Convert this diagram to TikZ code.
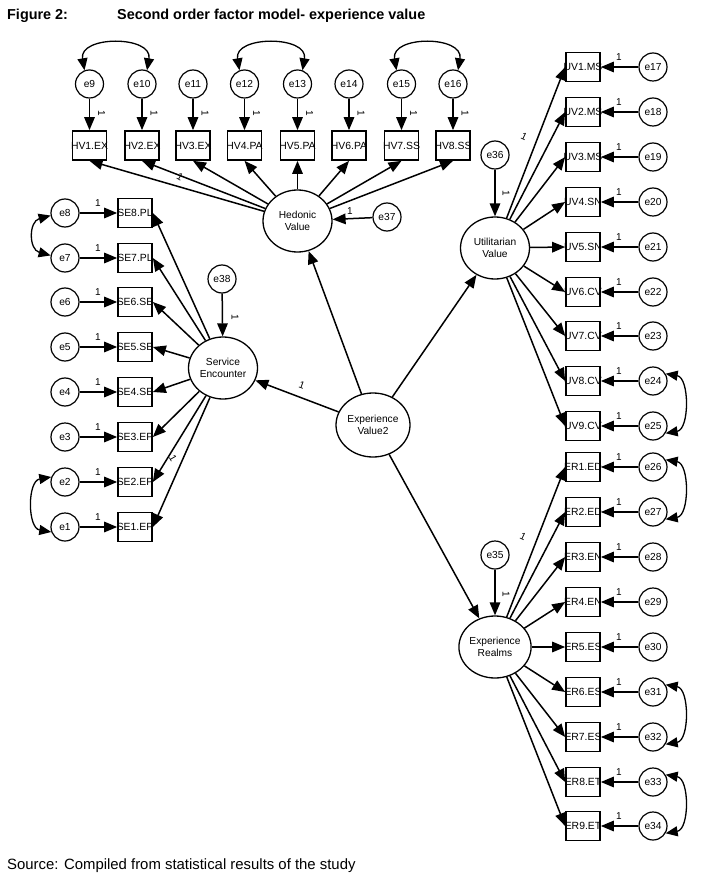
\documentclass[tikz,border=0pt]{standalone}
\usepackage{fontspec}
\setmainfont{Liberation Sans}
\usetikzlibrary{arrows.meta,shapes.geometric}
\newcommand\mybx[1]{\makebox[0pt]{#1}}
\begin{document}
\begin{tikzpicture}[x=1pt,y=-1pt,
  err/.style={circle,draw,line width=1.2pt,minimum size=28pt,inner sep=0pt,font=\fontsize{10.2}{12}\selectfont},
  obs/.style={rectangle,draw,line width=1.7pt,minimum width=34pt,minimum height=29pt,inner sep=0pt,font=\fontsize{10.4}{12}\selectfont},
  lat/.style={ellipse,draw,line width=1.3pt,minimum width=69pt,minimum height=62pt,inner sep=0pt,align=center,font=\fontsize{10.2}{12}\selectfont},
  pth/.style={line width=1.5pt,-{Triangle[length=13pt,width=10.5pt]}},
  cov/.style={line width=1.3pt,{Triangle[length=12pt,width=10pt]}-{Triangle[length=12pt,width=10pt]}},
  one/.style={font=\fontsize{10}{11}\selectfont,inner sep=0pt},
]
\useasboundingbox[fill=white] (0,0) rectangle (721,882);

% Title and source
\node[anchor=base west,inner sep=0pt,font=\bfseries\fontsize{14.4}{16}\selectfont] (t1) at (7,20) {Figure 2:};
\node[anchor=base west,inner sep=0pt,font=\bfseries\fontsize{14.4}{16}\selectfont] (t2) at (117,20) {Second order factor model- experience value};
\node[anchor=base west,inner sep=0pt,font=\fontsize{14.9}{16}\selectfont] (src) at (7,869) {Source: Compiled from statistical results of the study};

% Latent variables
\node[lat] (hed) at (297.5,221) {Hedonic\\Value};
\node[lat] (ser) at (223,368) {Service\\Encounter};
\node[lat] (uti) at (495,248) {Utilitarian\\Value};
\node[lat] (exr) at (495,647) {Experience\\Realms};
\node[lat,minimum width=74pt,minimum height=64pt] (ev) at (373,425) {Experience\\Value2};

% Disturbances
\node[err] (e37) at (387,217) {e37};
\node[err] (e38) at (222,279) {e38};
\node[err] (e36) at (495,155) {e36};
\node[err] (e35) at (495,555) {e35};
\draw[pth] (e37) -- (hed);
\node[one] (l37) at (350,211) {1};
\draw[pth] (e38) -- (ser);
\node[one,rotate=-90] (l38) at (235,317) {1};
\draw[pth] (e36) -- (uti);
\node[one,rotate=-90] (l36) at (506,193) {1};
\draw[pth] (e35) -- (exr);
\node[one,rotate=-90] (l35) at (506,594) {1};

% Second order paths
\draw[pth] (ev) -- (hed);
\draw[pth] (ev) -- (ser);
\draw[pth] (ev) -- (uti);
\draw[pth] (ev) -- (exr);
\node[one,rotate=-20] (lev) at (302,385) {1};

% Hedonic block
\foreach \i/\x/\s/\e in {1/89.5/EX/9,2/142/EX/10,3/193/EX/11,4/244.5/PA/12,5/297.5/PA/13,6/349/PA/14,7/401.5/SS/15,8/453/SS/16}{
  \node[obs] (hv\i) at (\x,145.5) {\mybx{HV\i.\s}};
  \node[err] (e\e) at (\x,84) {e\e};
  \draw[pth] (e\e) -- (hv\i);
  \node[one,rotate=-90] (lh\i) at (\x+12,113) {1};
  \draw[pth] (hed) -- (hv\i.south);
}
\node[one,rotate=-30] (lhv2) at (180,177) {1};
\draw[cov] (e9.110) .. controls +(-6,-35) and +(6,-35) .. (e10.70);
\draw[cov] (e12.110) .. controls +(-6,-35) and +(6,-35) .. (e13.70);
\draw[cov] (e15.110) .. controls +(-6,-35) and +(6,-35) .. (e16.70);

% Service encounter block
\foreach \i/\y/\s in {8/213/PL,7/258/PL,6/302/SE,5/347/SE,4/392/SE,3/437/EP,2/482/EP,1/527/EP}{
  \node[obs] (se\i) at (135,\y) {\mybx{SE\i.\s}};
  \node[err] (e\i) at (65,\y) {e\i};
  \draw[pth] (e\i) -- (se\i);
  \node[one] (ls\i) at (98,\y-10) {1};
  \draw[pth] (ser) -- (se\i.east);
}
\node[one,rotate=-60] (lse2) at (173,458) {1};
\draw[cov] (e8.190) .. controls +(-22,6) and +(-22,-6) .. (e7.170);
\draw[cov] (e2.160) .. controls +(-24,4) and +(-24,-4) .. (e1.200);

% Utilitarian block
\foreach \i/\y/\s/\e in {1/67/MS/17,2/112/MS/18,3/157/MS/19,4/202/SN/20,5/247/SN/21,6/292/CV/22,7/336/CV/23,8/381/CV/24,9/426/CV/25}{
  \node[obs] (uv\i) at (583,\y) {\mybx{UV\i.\s}};
  \node[err] (e\e) at (653,\y) {e\e};
  \draw[pth] (e\e) -- (uv\i);
  \node[one] (lu\i) at (619,\y-10) {1};
  \draw[pth] (uti) -- (uv\i.west);
}
\node[one,rotate=-25] (luv1) at (524,137) {1};
\draw[cov] (e24.30) .. controls +(24,4) and +(24,-4) .. (e25.-30);

% Experience realms block
\foreach \i/\y/\s/\e in {1/467/ED/26,2/512/ED/27,3/557/EN/28,4/602/EN/29,5/647/ES/30,6/692/ES/31,7/737/ES/32,8/782/ET/33,9/826/ET/34}{
  \node[obs] (er\i) at (583,\y) {\mybx{ER\i.\s}};
  \node[err] (e\e) at (653,\y) {e\e};
  \draw[pth] (e\e) -- (er\i);
  \node[one] (lr\i) at (619,\y-10) {1};
  \draw[pth] (exr) -- (er\i.west);
}
\node[one,rotate=-25] (ler1) at (523,537) {1};
\draw[cov] (e26.30) .. controls +(24,4) and +(24,-4) .. (e27.-30);
\draw[cov] (e31.30) .. controls +(24,4) and +(24,-4) .. (e32.-30);
\draw[cov] (e33.30) .. controls +(24,4) and +(24,-4) .. (e34.-30);
\end{tikzpicture}
\end{document}
